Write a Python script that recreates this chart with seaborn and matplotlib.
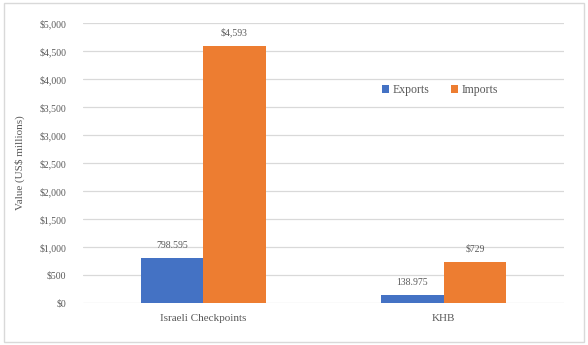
import pandas as pd
import seaborn as sns
import matplotlib.pyplot as plt
from matplotlib.patches import Rectangle

# Chart data
categories = ["Israeli Checkpoints", "KHB"]
exports = [798.595, 138.975]
imports = [4593, 729]
export_labels = ["798.595", "138.975"]
import_labels = ["$4,593", "$729"]

df = pd.DataFrame({
    "Category": categories * 2,
    "Flow": ["Exports"] * len(categories) + ["Imports"] * len(categories),
    "Value": exports + imports,
})

sns.set_style("white")
plt.rcParams["font.family"] = ["Liberation Serif", "DejaVu Serif"]
text_color = "#595959"

fig = plt.figure(figsize=(5.88, 3.45), dpi=100)
ax = fig.add_axes([0.141, 0.122, 0.818, 0.811])

sns.barplot(data=df, x="Category", y="Value", hue="Flow",
            palette={"Exports": "#4472C4", "Imports": "#ED7D31"},
            width=0.52, gap=0, saturation=1, linewidth=0, ax=ax, zorder=3)

# Value labels
for cont, labels in zip(ax.containers, [export_labels, import_labels]):
    ax.bar_label(cont, labels=labels, padding=6, fontsize=7, color=text_color)

ax.set_ylim(0, 5000)
ax.set_yticks(range(0, 5001, 500))
ax.set_yticklabels([f"${v:,}" for v in range(0, 5001, 500)], fontsize=7, color=text_color)
ax.tick_params(axis="x", labelsize=8, labelcolor=text_color, length=0, pad=8)
ax.tick_params(axis="y", length=0, pad=12)
ax.yaxis.grid(True, color="#D9D9D9", linewidth=0.9, zorder=0)
ax.set_axisbelow(True)
for s in ax.spines.values():
    s.set_visible(False)
ax.set_xlabel("")
ax.set_ylabel("Value (US$ millions)", fontsize=8, color=text_color, labelpad=10)

leg = ax.legend(loc="upper left", bbox_to_anchor=(0.6, 0.82), ncol=2, frameon=False,
                fontsize=8.5, handlelength=0.6, handleheight=0.6, columnspacing=1.8,
                handletextpad=0.3)
for t in leg.get_texts():
    t.set_color(text_color)

# Outer chart border
fig.patches.append(Rectangle((0.006, 0.009), 0.988, 0.982, transform=fig.transFigure,
                             fill=False, edgecolor="#D9D9D9", linewidth=1))

fig.savefig("out.png", dpi=100)
